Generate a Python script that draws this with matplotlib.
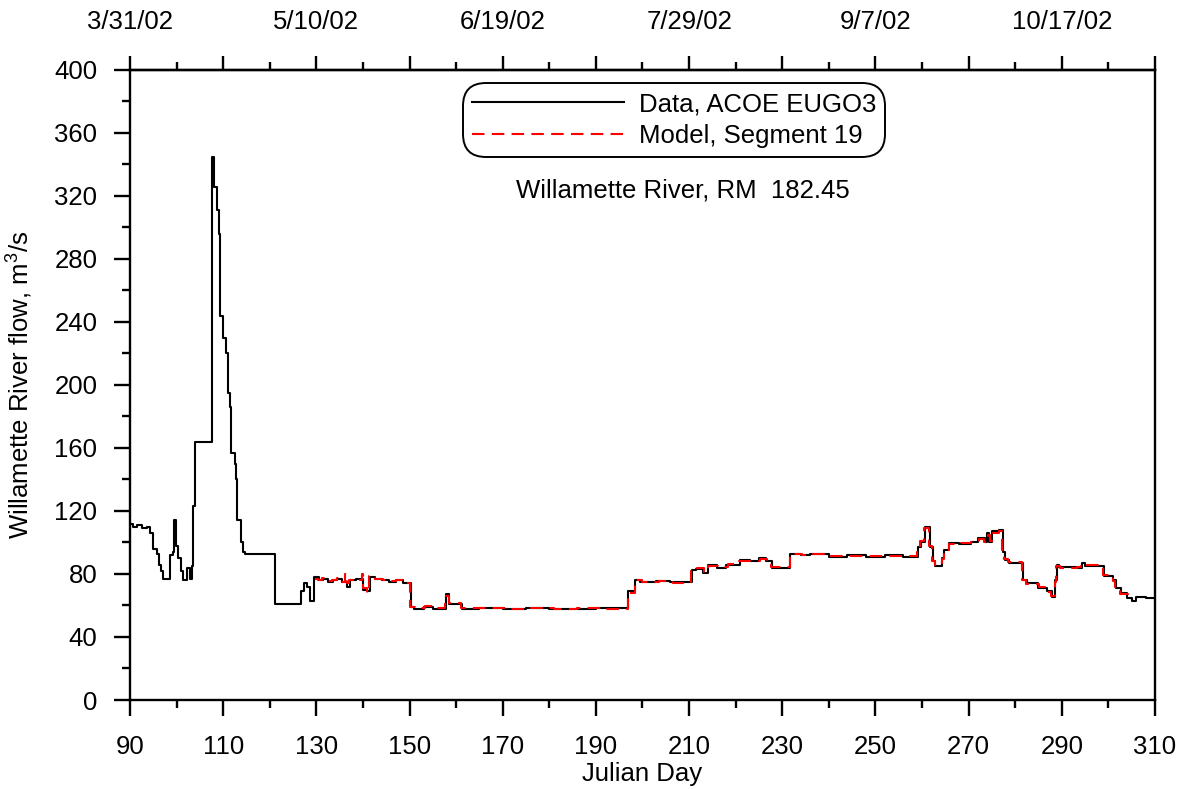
import matplotlib
matplotlib.use("Agg")
import matplotlib.pyplot as plt
from matplotlib.ticker import FixedLocator, MultipleLocator, NullFormatter

plt.rcParams.update({
    "font.family": ["Liberation Sans", "DejaVu Sans"],
    "mathtext.fontset": "custom",
    "mathtext.rm": "Liberation Sans",
    "mathtext.it": "Liberation Sans",
})

FS = 18.5

# ---- data: step breakpoints (Julian day, flow m3/s), 10 per row ----
DATA_DAY = [90.0, 90.6, 91.5, 92.5, 93.6, 94.3, 95.0, 95.8, 96.3, 96.7,
            97.0, 98.5, 99.2, 99.5, 99.9, 100.3, 100.9, 101.4, 102.2, 102.9,
            103.3, 103.6, 104.0, 107.7, 108.1, 108.6, 109.1, 109.4, 109.9, 110.5,
            111.0, 111.5, 111.7, 112.5, 112.8, 113.0, 113.8, 114.2, 114.7, 121.1,
            126.8, 127.3, 128.0, 128.6, 129.5, 130.5, 131.5, 132.5, 133.5, 134.5,
            135.5, 136.6, 137.2, 138.5, 140.0, 140.8, 141.5, 142.5, 144.0, 145.5,
            147.0, 148.5, 150.3, 151.0, 153.0, 155.0, 157.8, 158.5, 161.2, 165.0,
            170.0, 175.0, 180.0, 185.0, 190.0, 196.9, 198.4, 199.5, 203.0, 206.0,
            210.6, 211.5, 213.0, 214.0, 216.0, 218.0, 220.9, 223.0, 225.0, 226.5,
            227.7, 231.7, 234.0, 236.0, 240.0, 244.0, 248.0, 252.0, 256.0, 259.1,
            259.7, 260.6, 261.7, 262.3, 262.8, 264.3, 264.8, 265.8, 268.0, 270.6,
            272.0, 273.5, 274.0, 274.4, 275.0, 276.5, 277.3, 277.8, 278.6, 281.6,
            282.5, 285.0, 286.8, 287.8, 288.6, 288.9, 289.5, 293.0, 294.3, 295.0,
            299.0, 301.0, 301.6, 302.7, 304.1, 305.0, 306.0, 308.0, 310.0]
DATA_FLOW = [112, 110, 111, 109, 110, 106, 96, 93, 86, 82,
             77, 92, 94, 114, 98, 90, 82, 76, 84, 77,
             85, 123, 164, 345, 326, 311, 296, 244, 230, 220,
             195, 186, 157, 150, 140, 114, 100, 94, 93, 61,
             69, 74, 72, 63, 78, 76, 77, 75, 76, 77,
             75, 72, 76, 77, 70, 69, 78, 77, 76, 75,
             76, 74, 59, 58, 59, 58, 67, 61, 58, 58.5,
             58, 58.5, 58, 58, 58.5, 69, 76, 75, 75.5, 75,
             82.5, 83, 80.6, 85.7, 84, 86, 89, 88, 90, 88,
             84, 93, 92, 93, 91, 92, 91, 92, 91, 97,
             100.5, 110, 97, 88, 85, 90, 95, 99.6, 99, 100.5,
             103, 100, 106, 100.5, 107, 108, 94, 89, 87, 76,
             74, 71, 69, 65.6, 76, 85.7, 84.6, 84, 87, 85,
             79, 76, 71, 68, 64.7, 63, 65.6, 64.7, 64.7]

MODEL_DAY = [129.6, 130.4, 131.3, 132.2, 133.3, 134.4, 135.3, 136.2, 136.5, 137.0,
             138.2, 139.4, 139.7, 140.1, 140.9, 141.4, 142.6, 144.2, 145.6, 147.2,
             148.8, 150.2, 151.2, 153.4, 155.5, 157.7, 158.4, 161.0, 166.0, 171.0,
             176.0, 181.0, 186.0, 191.0, 196.8, 198.3, 199.8, 203.5, 206.5, 210.5,
             211.8, 213.2, 214.1, 216.3, 218.4, 220.8, 223.4, 225.3, 226.8, 227.6,
             231.6, 234.3, 236.4, 240.5, 244.5, 248.4, 252.5, 256.3, 259.0, 259.6,
             260.5, 261.6, 262.2, 262.7, 264.2, 264.7, 265.7, 268.3, 270.5, 272.2,
             273.4, 274.1, 274.5, 275.1, 276.6, 277.2, 277.7, 278.5, 281.5, 282.4,
             285.2, 286.7, 287.7, 288.5, 288.8, 289.6, 293.2, 294.2, 295.2, 298.9,
             300.9, 301.5, 302.6, 304.2, 304.6]
MODEL_FLOW = [77, 76.5, 77.5, 75.5, 76.5, 77.5, 75, 80, 74, 76.5,
              77, 76, 80, 71, 68, 78.5, 77, 76.5, 75.5, 76.5,
              74.5, 59, 58.5, 59.5, 58.5, 66, 61.5, 58.5, 58.5, 58,
              58.5, 58, 58.5, 58, 68, 76.5, 75, 75.5, 74.5, 82,
              83.5, 81, 85, 84.5, 86.5, 88.5, 88.5, 89.5, 88, 84.5,
              92.5, 92, 92.5, 91.5, 91.5, 91.5, 91.5, 91.5, 96, 101,
              109, 98, 88.5, 85.5, 89.5, 95.5, 99, 99.5, 100, 102.5,
              100.5, 105, 101, 106, 107, 95, 89.5, 87.5, 76.5, 73.5,
              71.5, 68.5, 66, 75, 85, 84, 84.5, 86.5, 85.5, 79.5,
              75.5, 71.5, 67.5, 64.5, 64.5]

X_TICKS = [90, 110, 130, 150, 170, 190, 210, 230, 250, 270, 290, 310]
Y_TICKS = [0, 40, 80, 120, 160, 200, 240, 280, 320, 360, 400]
TOP_LABELS = ["3/31/02", "", "5/10/02", "", "6/19/02", "", "7/29/02", "",
              "9/7/02", "", "10/17/02", ""]

fig = plt.figure(figsize=(11.83, 7.89), dpi=100)
ax = fig.add_axes([0.1099, 0.1128, 0.8664, 0.7985])

ax.plot(DATA_DAY, DATA_FLOW, drawstyle="steps-post", color="black",
        lw=1.5, label="Data, ACOE EUGO3", zorder=2)
ax.plot(MODEL_DAY, MODEL_FLOW, drawstyle="steps-post", color="red",
        lw=1.5, dashes=(6, 3.5), label="Model, Segment 19", zorder=3)

ax.set_xlim(90, 310)
ax.set_ylim(0, 400)
ax.xaxis.set_major_locator(FixedLocator(X_TICKS))
ax.xaxis.set_minor_locator(MultipleLocator(10))
ax.yaxis.set_major_locator(FixedLocator(Y_TICKS))
ax.yaxis.set_minor_locator(MultipleLocator(20))

for sp in ax.spines.values():
    sp.set_linewidth(1.7)
ax.tick_params(which="major", direction="out", length=11.5, width=1.7,
               labelsize=FS, pad=12)
ax.tick_params(which="minor", direction="out", length=5.8, width=1.7)
ax.tick_params(axis="x", which="major", pad=14)
ax.tick_params(right=False, which="both")

ax.set_xlabel("Julian Day", fontsize=FS, labelpad=2)
ax.set_ylabel(r"Willamette River flow, m$^3$/s", fontsize=FS, labelpad=14)

top = ax.secondary_xaxis("top")
top.xaxis.set_major_locator(FixedLocator(X_TICKS))
top.xaxis.set_minor_locator(MultipleLocator(10))
top.set_xticklabels(TOP_LABELS)
top.xaxis.set_minor_formatter(NullFormatter())
top.spines["top"].set_linewidth(1.7)
top.tick_params(which="major", direction="out", length=10, width=1.7,
                labelsize=FS, pad=16)
top.tick_params(which="minor", direction="out", length=5.8, width=1.7)

leg = ax.legend(loc="upper left", bbox_to_anchor=(0.325, 0.979),
                fontsize=FS, handlelength=5.9, handletextpad=0.6,
                labelspacing=0.3, borderpad=0.35, borderaxespad=0,
                fancybox=True, framealpha=1, edgecolor="black")
leg.get_frame().set_linewidth(1.4)
leg.get_frame().set_boxstyle("round", pad=0.0, rounding_size=0.9)

ax.text(0.5395, 0.8095, "Willamette River, RM  182.45", transform=ax.transAxes,
        ha="center", va="center", fontsize=FS)

fig.savefig("out.png", dpi=100)
